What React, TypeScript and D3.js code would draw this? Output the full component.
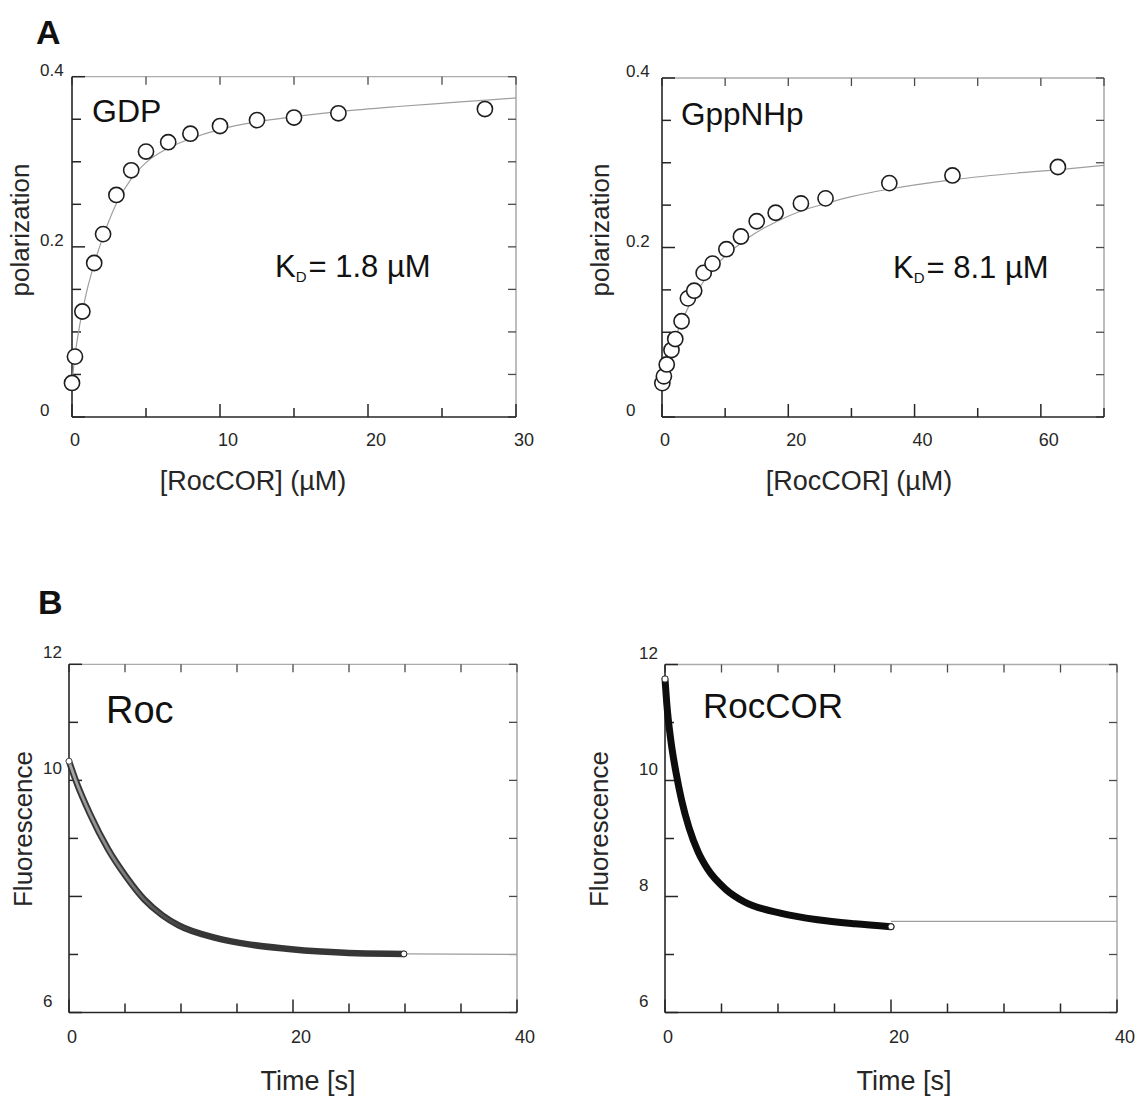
import React from "react";
import * as d3 from "d3";

// ---------- Panel A (left): GDP ----------
const gdpConc = [0.0, 0.2, 0.7, 1.5, 2.1, 3.0, 4.0, 5.0, 6.5, 8.0, 10.0, 12.5, 15.0, 18.0, 27.9];
const gdpPol = [0.040, 0.071, 0.124, 0.181, 0.215, 0.261, 0.290, 0.312, 0.323, 0.333, 0.342, 0.349, 0.352, 0.357, 0.362];
const gdpFitConc = [0, 0.2, 0.5, 0.75, 1, 1.5, 2, 3, 4, 5, 6.5, 8, 10, 12.5, 15, 18, 22, 26, 30];
const gdpFitPol = [0.040, 0.072, 0.106, 0.128, 0.148, 0.180, 0.207, 0.251, 0.280, 0.299, 0.316, 0.327, 0.338, 0.347, 0.353, 0.359, 0.365, 0.370, 0.375];

// ---------- Panel A (right): GppNHp ----------
const gppConc = [0.05, 0.3, 0.75, 1.5, 2.1, 3.1, 4.1, 5.1, 6.6, 8.0, 10.2, 12.5, 15.0, 18.0, 22.0, 25.9, 36.0, 46.0, 62.7];
const gppPol = [0.040, 0.048, 0.062, 0.079, 0.092, 0.113, 0.140, 0.149, 0.170, 0.181, 0.198, 0.213, 0.231, 0.241, 0.252, 0.258, 0.276, 0.285, 0.295];
const gppFitConc = [0, 0.5, 1, 2, 3, 4, 5, 6.5, 8, 10, 12.5, 15, 18, 22, 26, 30, 36, 45, 55, 63, 70];
const gppFitPol = [0.040, 0.056, 0.070, 0.092, 0.111, 0.127, 0.141, 0.159, 0.174, 0.190, 0.205, 0.218, 0.230, 0.243, 0.252, 0.260, 0.269, 0.279, 0.287, 0.292, 0.297];

// ---------- Panel B (left): Roc ----------
const rocTime = [0, 0.6, 1.9, 3.5, 5.1, 6.7, 8.3, 9.8, 13.0, 16.2, 19.4, 22.5, 25.7, 29.9];
const rocFluo = [10.33, 10.0, 9.41, 8.81, 8.34, 7.95, 7.68, 7.50, 7.29, 7.17, 7.10, 7.05, 7.02, 7.01];
const rocFitTime = [29.9, 40];
const rocFitFluo = [7.01, 7.0];

// ---------- Panel B (right): RocCOR ----------
const rocCorTime = [0, 0.16, 0.49, 0.98, 1.47, 2.12, 2.93, 3.75, 5.4, 7.0, 10.3, 13.5, 16.8, 20.0];
const rocCorFluo = [11.75, 11.32, 10.73, 10.13, 9.66, 9.19, 8.77, 8.48, 8.12, 7.91, 7.71, 7.60, 7.53, 7.48];
const rocCorFitTime = [20, 40];
const rocCorFitFluo = [7.57, 7.57];

// ---------- Tick values ----------
const polMajor = [0, 0.2, 0.4];
const polMinor = [0.05, 0.1, 0.15, 0.25, 0.3, 0.35];
const gdpXMajor = [0, 10, 20, 30];
const gdpXMinor = [5, 15, 25];
const gppXMajor = [0, 20, 40, 60];
const gppXMinor = [10, 30, 50, 70];
const timeMajor = [0, 20, 40];
const timeMinor = [5, 10, 15, 25, 30, 35];
const fluoMajor = [6, 8, 10, 12];
const fluoMinor = [7, 9, 11];
const rocYLabels = [6, 10, 12];
const rocCorYLabels = [6, 8, 10, 12];

const FONT = "'Liberation Sans', Arial, Helvetica, sans-serif";
const INK = "#262626";

type Cfg = {
  left: number;
  right: number;
  top: number;
  bottom: number;
  xDomain: [number, number];
  yDomain: [number, number];
  xMajor: number[];
  xMinor: number[];
  yMajor: number[];
  yMinor: number[];
  xLabels: number[];
  yLabels: number[];
  xLabelBase: number;
  yLabelX: number;
  yLabelOff: number;
  xFs: number;
  yFs: number;
};

function makeScales(c: Cfg) {
  const x = d3.scaleLinear().domain(c.xDomain).range([c.left, c.right]);
  const y = d3.scaleLinear().domain(c.yDomain).range([c.bottom, c.top]);
  return { x, y };
}

function Axes({ c }: { c: Cfg }) {
  const { x, y } = makeScales(c);
  const allX = [...c.xMajor, ...c.xMinor];
  const allY = [...c.yMajor, ...c.yMinor];
  const fmt = (v: number) => String(v);
  return (
    <g>
      <line x1={c.left} x2={c.right} y1={c.top} y2={c.top} stroke="#ababab" strokeWidth={1.3} />
      <line x1={c.right} x2={c.right} y1={c.top} y2={c.bottom} stroke="#9a9a9a" strokeWidth={1.3} />
      {allX.map((v, i) => (
        <line key={"tt" + i} x1={x(v)} x2={x(v)} y1={c.top} y2={c.top + 8} stroke="#4a4a4a" strokeWidth={1.3} />
      ))}
      {allY.map((v, i) => (
        <line key={"rt" + i} x1={c.right} x2={c.right - 8} y1={y(v)} y2={y(v)} stroke="#4a4a4a" strokeWidth={1.3} />
      ))}
      {c.xMajor.map((v, i) => (
        <line key={"bM" + i} x1={x(v)} x2={x(v)} y1={c.bottom} y2={c.bottom - 13} stroke={INK} strokeWidth={1.5} />
      ))}
      {c.xMinor.map((v, i) => (
        <line key={"bm" + i} x1={x(v)} x2={x(v)} y1={c.bottom} y2={c.bottom - 9} stroke={INK} strokeWidth={1.5} />
      ))}
      {c.yMajor.map((v, i) => (
        <line key={"lM" + i} x1={c.left} x2={c.left + 13} y1={y(v)} y2={y(v)} stroke={INK} strokeWidth={1.5} />
      ))}
      {c.yMinor.map((v, i) => (
        <line key={"lm" + i} x1={c.left} x2={c.left + 9} y1={y(v)} y2={y(v)} stroke={INK} strokeWidth={1.5} />
      ))}
      <line x1={c.left} x2={c.right} y1={c.bottom} y2={c.bottom} stroke={INK} strokeWidth={1.6} />
      <line x1={c.left} x2={c.left} y1={c.top} y2={c.bottom} stroke={INK} strokeWidth={1.6} />
      {c.xLabels.map((v, i) => (
        <text key={"xl" + i} x={x(v) - 2} y={c.xLabelBase} fontSize={c.xFs} fill={INK} fontFamily={FONT}>
          {fmt(v)}
        </text>
      ))}
      {c.yLabels.map((v, i) => (
        <text key={"yl" + i} x={c.yLabelX} y={y(v) - c.yLabelOff} fontSize={c.yFs} fill={INK} fontFamily={FONT}>
          {fmt(v)}
        </text>
      ))}
    </g>
  );
}

const cfgGdp: Cfg = {
  left: 72, right: 516, top: 76.7, bottom: 417,
  xDomain: [0, 30], yDomain: [0, 0.4],
  xMajor: gdpXMajor, xMinor: gdpXMinor, yMajor: polMajor, yMinor: polMinor,
  xLabels: gdpXMajor, yLabels: polMajor,
  xLabelBase: 446, yLabelX: 40, yLabelOff: 1, xFs: 18, yFs: 17,
};
const cfgGpp: Cfg = {
  left: 662, right: 1104, top: 78, bottom: 417,
  xDomain: [0, 70], yDomain: [0, 0.4],
  xMajor: gppXMajor, xMinor: gppXMinor, yMajor: polMajor, yMinor: polMinor,
  xLabels: gppXMajor, yLabels: polMajor,
  xLabelBase: 446, yLabelX: 626, yLabelOff: 1, xFs: 18, yFs: 17,
};
const cfgRoc: Cfg = {
  left: 69, right: 517, top: 664.3, bottom: 1012.5,
  xDomain: [0, 40], yDomain: [6, 12],
  xMajor: timeMajor, xMinor: timeMinor, yMajor: fluoMajor, yMinor: fluoMinor,
  xLabels: timeMajor, yLabels: rocYLabels,
  xLabelBase: 1043, yLabelX: 43, yLabelOff: 6, xFs: 18, yFs: 17,
};
const cfgRocCor: Cfg = {
  left: 665, right: 1117, top: 664.5, bottom: 1012.5,
  xDomain: [0, 40], yDomain: [6, 12],
  xMajor: timeMajor, xMinor: timeMinor, yMajor: fluoMajor, yMinor: fluoMinor,
  xLabels: timeMajor, yLabels: rocCorYLabels,
  xLabelBase: 1043, yLabelX: 639, yLabelOff: 6, xFs: 18, yFs: 17,
};

function BindingPanel({ c, xs, ys, fx, fy }: { c: Cfg; xs: number[]; ys: number[]; fx: number[]; fy: number[] }) {
  const { x, y } = makeScales(c);
  const fit = d3
    .line<number>()
    .x((_, i) => x(fx[i]))
    .y((d) => y(d))
    .curve(d3.curveMonotoneX)(fy) as string;
  return (
    <g>
      <path d={fit} fill="none" stroke="#9e9e9e" strokeWidth={1.2} />
      {xs.map((v, i) => (
        <circle key={i} cx={x(v)} cy={y(ys[i])} r={7.6} fill="#fff" stroke="#1e1e1e" strokeWidth={1.6} />
      ))}
    </g>
  );
}

function KineticPanel({
  c, ts, fs, ft, ff, dark, id,
}: { c: Cfg; ts: number[]; fs: number[]; ft: number[]; ff: number[]; dark: boolean; id: string }) {
  const { x, y } = makeScales(c);
  const lineGen = (tt: number[]) =>
    d3
      .line<number>()
      .x((_, i) => x(tt[i]))
      .y((d) => y(d))
      .curve(d3.curveMonotoneX);
  const band = lineGen(ts)(fs) as string;
  const fit = lineGen(ft)(ff) as string;
  const n = ts.length - 1;
  return (
    <g>
      <defs>
        <linearGradient id={id} gradientUnits="userSpaceOnUse" x1={x(0)} x2={x(12)} y1={0} y2={0}>
          <stop offset="0%" stopColor="#a8a8a8" stopOpacity={1} />
          <stop offset="45%" stopColor="#8a8a8a" stopOpacity={0.8} />
          <stop offset="100%" stopColor="#5a5a5a" stopOpacity={0} />
        </linearGradient>
      </defs>
      <path d={fit} fill="none" stroke="#9e9e9e" strokeWidth={1.2} />
      <path
        d={band}
        fill="none"
        stroke={dark ? "#0d0d0d" : "#363636"}
        strokeWidth={dark ? 7 : 6.5}
        strokeLinecap="round"
      />
      {!dark && <path d={band} fill="none" stroke={`url(#${id})`} strokeWidth={2.8} strokeLinecap="round" />}
      <circle cx={x(ts[0])} cy={y(fs[0])} r={3} fill="#fff" stroke="#555" strokeWidth={1} />
      <circle cx={x(ts[n])} cy={y(fs[n])} r={3} fill="#fff" stroke="#222" strokeWidth={1} />
    </g>
  );
}

function YTitle({ x, y, text }: { x: number; y: number; text: string }) {
  return (
    <text
      x={x}
      y={y}
      transform={`rotate(-90 ${x} ${y})`}
      textAnchor="middle"
      fontSize={26}
      fill={INK}
      fontFamily={FONT}
    >
      {text}
    </text>
  );
}

function XTitle({ x, y, text }: { x: number; y: number; text: string }) {
  return (
    <text x={x} y={y} textAnchor="middle" fontSize={27} fill={INK} fontFamily={FONT}>
      {text}
    </text>
  );
}

export default function App() {
  return (
    <svg
      width={1137}
      height={1099}
      viewBox="0 0 1137 1099"
      style={{ position: "absolute", left: 0, top: 0, background: "#fff" }}
      fontFamily={FONT}
    >
      <rect x={0} y={0} width={1137} height={1099} fill="#fff" />

      {/* Panel letters */}
      <text x={36} y={44} fontSize={34} fontWeight="bold" fill="#111" fontFamily={FONT}>A</text>
      <text x={38} y={614} fontSize={34} fontWeight="bold" fill="#111" fontFamily={FONT}>B</text>

      {/* A left */}
      <Axes c={cfgGdp} />
      <BindingPanel c={cfgGdp} xs={gdpConc} ys={gdpPol} fx={gdpFitConc} fy={gdpFitPol} />
      <text x={92} y={122} fontSize={32} fill="#111" fontFamily={FONT}>GDP</text>
      <text x={275} y={277} fontSize={31} fill="#111" fontFamily={FONT}>
        K<tspan fontSize={15} dy={5}>D</tspan>
        <tspan dy={-5} dx={2}>= 1.8 µM</tspan>
      </text>
      <YTitle x={29} y={230} text="polarization" />
      <XTitle x={253} y={490} text="[RocCOR] (µM)" />

      {/* A right */}
      <Axes c={cfgGpp} />
      <BindingPanel c={cfgGpp} xs={gppConc} ys={gppPol} fx={gppFitConc} fy={gppFitPol} />
      <text x={681} y={125} fontSize={31.5} fill="#111" fontFamily={FONT}>GppNHp</text>
      <text x={893} y={278} fontSize={31} fill="#111" fontFamily={FONT}>
        K<tspan fontSize={15} dy={5}>D</tspan>
        <tspan dy={-5} dx={2}>= 8.1 µM</tspan>
      </text>
      <YTitle x={609} y={230} text="polarization" />
      <XTitle x={859} y={490} text="[RocCOR] (µM)" />

      {/* B left */}
      <Axes c={cfgRoc} />
      <KineticPanel c={cfgRoc} ts={rocTime} fs={rocFluo} ft={rocFitTime} ff={rocFitFluo} dark={false} id="rocGrad" />
      <text x={106} y={723} fontSize={38} fill="#111" fontFamily={FONT}>Roc</text>
      <YTitle x={32} y={829} text="Fluorescence" />
      <XTitle x={308} y={1090} text="Time [s]" />

      {/* B right */}
      <Axes c={cfgRocCor} />
      <KineticPanel c={cfgRocCor} ts={rocCorTime} fs={rocCorFluo} ft={rocCorFitTime} ff={rocCorFitFluo} dark={true} id="rocCorGrad" />
      <text x={703} y={718} fontSize={35} fill="#111" fontFamily={FONT}>RocCOR</text>
      <YTitle x={608} y={829} text="Fluorescence" />
      <XTitle x={904} y={1090} text="Time [s]" />
    </svg>
  );
}
